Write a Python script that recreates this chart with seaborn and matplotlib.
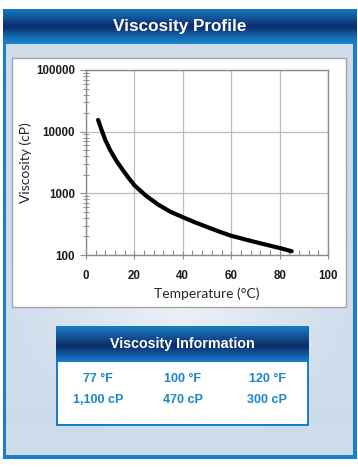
import numpy as np
import pandas as pd
import matplotlib
matplotlib.use("Agg")
import matplotlib.pyplot as plt
import seaborn as sns
from matplotlib.colors import LinearSegmentedColormap
from matplotlib.patches import Rectangle
from matplotlib.ticker import LogLocator, MultipleLocator, FixedLocator, NullFormatter

# ---------------- data ----------------
temperature_c = [5, 6.5, 8, 10, 12.5, 15, 17.5, 20, 25, 30, 35, 40, 45, 50, 55,
                 60, 65, 70, 75, 80, 85]
viscosity_cp = [15500, 10500, 7300, 5000, 3400, 2450, 1800, 1350, 900, 650, 500,
                410, 339, 285, 240, 205, 182, 162, 145, 130, 115]
x_ticks = [0, 20, 40, 60, 80, 100]
y_ticks = [100, 1000, 10000, 100000]
y_tick_labels = ["100", "1000", "10000", "100000"]
info_temps = ["77 °F", "100 °F", "120 °F"]
info_visc = ["1,100 cP", "470 cP", "300 cP"]

df = pd.DataFrame({"Temperature": temperature_c, "Viscosity": viscosity_cp})

sns.set_theme(style="white")
plt.rcParams["font.family"] = ["Liberation Sans", "DejaVu Sans"]

W, H = 358, 467
fig = plt.figure(figsize=(W / 100, H / 100), dpi=100)
fig.patch.set_facecolor("white")

# background axes in pixel coordinates
bg = fig.add_axes([0, 0, 1, 1], zorder=0)
bg.set_xlim(0, W)
bg.set_ylim(H, 0)
bg.axis("off")

BLUE = "#1a7fc8"
NAVY = "#0c2d6b"
hdr_cmap = LinearSegmentedColormap.from_list(
    "hdr", [(0, "#1678c2"), (0.5, NAVY), (0.85, "#1670bb"), (1, "#1b84cc")])

# outer border
bg.add_patch(Rectangle((3, 9), 354, 450, facecolor=BLUE, edgecolor="none", zorder=1))
# panel body with soft light centre
yy, xx = np.mgrid[0:410, 0:347]
d = np.sqrt(((xx - 175) / 190.0) ** 2 + ((yy - 255) / 150.0) ** 2)
body = np.clip(d, 0, 1) ** 0.8
body_cmap = LinearSegmentedColormap.from_list("body", ["#eef3f9", "#cddbeb"])
bg.imshow(body, cmap=body_cmap, extent=(6, 353, 455, 44), aspect="auto",
          interpolation="bilinear", zorder=2)
# header gradient
grad = np.linspace(0, 1, 100).reshape(-1, 1)
bg.imshow(grad, cmap=hdr_cmap, extent=(3, 357, 44, 9), aspect="auto",
          interpolation="bilinear", zorder=2)
bg.text(180, 26.5, "Viscosity Profile", color="white", fontsize=12.3,
        fontweight="bold", ha="center", va="center", zorder=5)

# white chart box
bg.add_patch(Rectangle((12, 58), 334, 249, facecolor="white",
                       edgecolor="#a6a6a6", linewidth=1, zorder=3))

# info box
bg.add_patch(Rectangle((56, 326), 253, 100, facecolor=BLUE, edgecolor="none", zorder=3))
info_cmap = LinearSegmentedColormap.from_list(
    "info", [(0, "#1a7cc4"), (0.55, NAVY), (0.85, "#1263ad"), (1, "#1a80c8")])
bg.imshow(grad, cmap=info_cmap, extent=(56, 309, 362, 326), aspect="auto",
          interpolation="bilinear", zorder=4)
bg.add_patch(Rectangle((58, 362), 249, 62, facecolor="white", edgecolor="none", zorder=4))
bg.text(182.5, 344, "Viscosity Information", color="white", fontsize=10.3,
        fontweight="bold", ha="center", va="center", zorder=5)
col_x = [98, 183, 267]
for cx, t, v in zip(col_x, info_temps, info_visc):
    bg.text(cx, 379, t, color="#1a86ca", fontsize=9, fontweight="bold",
            ha="center", va="center", zorder=5)
    bg.text(cx, 400, v, color="#1a86ca", fontsize=9, fontweight="bold",
            ha="center", va="center", zorder=5)

# ---------------- main plot ----------------
ax = fig.add_axes([86 / W, 1 - 255 / H, 242 / W, 185 / H], zorder=10)
ax.set_facecolor("white")
sns.lineplot(data=df, x="Temperature", y="Viscosity", ax=ax, color="black",
             linewidth=3.0, solid_capstyle="round", solid_joinstyle="round")
ax.set_yscale("log")
ax.set_xlim(0, 100)
ax.set_ylim(100, 100000)
ax.xaxis.set_major_locator(FixedLocator(x_ticks))
ax.xaxis.set_minor_locator(MultipleLocator(4))
ax.yaxis.set_major_locator(FixedLocator(y_ticks))
ax.yaxis.set_minor_locator(LogLocator(base=10, subs=np.arange(2, 10)))
ax.yaxis.set_minor_formatter(NullFormatter())
ax.set_yticklabels(y_tick_labels)
ax.set_xticklabels([str(v) for v in x_ticks])

ax.grid(True, which="major", color="#bcbcbc", linewidth=0.9)
for s in ax.spines.values():
    s.set_color("#8c8c8c")
    s.set_linewidth(1.0)
ax.tick_params(axis="x", which="major", direction="inout", length=6, width=0.8,
               color="#8c8c8c", labelsize=8.3, pad=8, bottom=True)
ax.tick_params(axis="x", which="minor", direction="in", length=3.5, width=0.8,
               color="#8c8c8c", bottom=True)
ax.tick_params(axis="y", which="major", direction="out", length=4, width=0.8,
               color="#8c8c8c", labelsize=8.3, pad=4, left=True)
ax.tick_params(axis="y", which="minor", direction="inout", length=4, width=0.7,
               color="#8c8c8c", left=True)
for lab in ax.get_xticklabels() + ax.get_yticklabels():
    lab.set_fontweight("bold")
    lab.set_color("#1a1a1a")

ax.set_xlabel("Temperature (°C)", family=["Lato", "DejaVu Sans"], fontsize=10,
              color="#262626", labelpad=4)
ax.set_ylabel("Viscosity (cP)", family=["Lato", "DejaVu Sans"], fontsize=10,
              color="#262626", labelpad=3)

fig.savefig("out.png", dpi=100)
